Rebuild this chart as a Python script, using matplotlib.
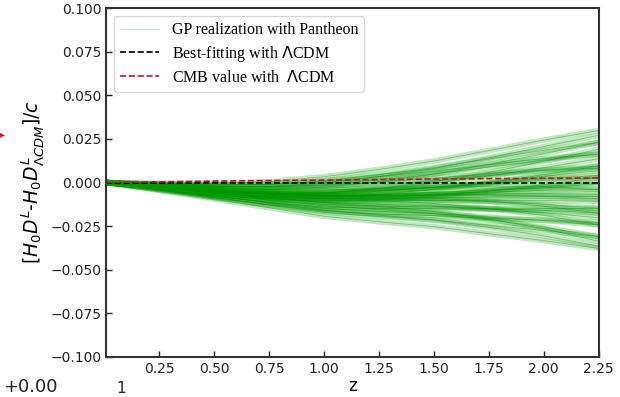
import numpy as np
import matplotlib
matplotlib.use('Agg')
import matplotlib.pyplot as plt

# redshift knots of the GP realizations
z = [0.01, 0.25, 0.5, 0.75, 1.0, 1.25, 1.5, 1.75, 2.0, 2.25]

# GP realizations with Pantheon, in units of 1e-3
gp_lines = [
    [0, -2.5, -5.0, -7.0, -8.0, -7.5, -6.5, -5.5, -4.5, -4.0],
    [0, -1.7, -3.2, -4.0, -3.5, -1.5, 1.0, 4.0, 7.0, 9.5],
    [0, -3.3, -6.8, -10.0, -12.5, -13.5, -14.0, -15.0, -16.0, -17.5],
    [0, -0.9, -1.4, -1.0, 1.0, 4.5, 8.5, 13.5, 18.5, 23.0],
    [0, -4.1, -8.6, -13.0, -17.0, -19.5, -21.5, -24.5, -27.5, -31.0],
    [0, -2.1, -4.1, -5.5, -5.8, -4.5, -2.8, -0.8, 1.3, 2.8],
    [0, -2.9, -5.9, -8.5, -10.3, -10.5, -10.3, -10.3, -10.3, -10.8],
    [0, -1.3, -2.3, -2.5, -1.3, 1.5, 4.8, 8.8, 12.8, 16.3],
    [0, -3.7, -7.7, -11.5, -14.8, -16.5, -17.8, -19.8, -21.8, -24.3],
    [0, -0.5, -0.5, 0.5, 3.3, 7.5, 12.3, 18.3, 24.3, 29.8],
    [0, -4.5, -9.5, -14.5, -19.3, -22.5, -25.3, -29.3, -33.3, -37.8],
    [0, -3.1, -6.0, -8.0, -8.5, -6.8, -4.0, -0.2, 4.5, 9.5],
    [0, -1.9, -4.0, -6.0, -7.5, -8.2, -9.0, -10.8, -13.5, -17.5],
    [0, -2.0, -3.5, -4.0, -2.7, 0.5, 4.8, 10.4, 16.5, 23.0],
    [0, -3.0, -6.5, -10.0, -13.3, -15.5, -17.8, -21.4, -25.5, -31.0],
    [0, -1.4, -2.9, -4.0, -4.3, -3.5, -2.8, -2.4, -2.5, -4.0],
    [0, -3.5, -6.9, -9.5, -10.7, -9.8, -7.8, -4.9, -1.3, 2.8],
    [0, -2.4, -5.0, -7.4, -9.1, -9.7, -10.0, -11.0, -12.4, -14.8],
    [0, -2.5, -4.8, -6.1, -5.9, -3.7, -0.5, 3.7, 8.5, 13.6],
    [0, -2.1, -4.5, -6.9, -9.0, -10.4, -12.0, -14.9, -18.8, -24.3],
    [0, -3.0, -6.0, -8.3, -9.4, -8.6, -7.0, -4.9, -2.4, 0.0],
    [0, -1.4, -2.4, -2.3, -0.4, 3.4, 8.0, 14.1, 20.6, 27.0],
    [0, -3.6, -7.6, -11.8, -15.8, -18.7, -21.5, -25.7, -30.6, -36.4],
    [0, -2.2, -4.3, -5.8, -6.1, -4.7, -2.8, -0.5, 2.1, 4.1],
    [0, -2.7, -5.5, -7.9, -9.4, -9.3, -8.8, -8.4, -8.0, -8.0],
    [0, -2.4, -4.8, -6.8, -8.0, -7.8, -7.2, -6.7, -6.3, -6.7],
    [0, -2.5, -4.8, -6.4, -6.6, -5.1, -2.8, 0.2, 3.6, 6.8],
    [0, -2.0, -4.3, -6.2, -7.3, -7.3, -7.0, -7.2, -7.8, -9.4],
    [0, -3.9, -7.8, -11.4, -14.1, -14.9, -15.0, -15.2, -15.0, -14.8],
    [0, -1.1, -2.1, -2.5, -1.7, 0.3, 2.5, 5.0, 7.0, 8.2],
    [0, -2.8, -5.2, -6.5, -6.1, -3.4, 0.5, 5.8, 12.1, 19.0],
    [0, -2.4, -5.3, -8.4, -11.4, -13.7, -16.5, -20.9, -26.5, -33.7],
    [0, -2.5, -4.9, -6.7, -7.6, -6.9, -5.7, -4.4, -3.1, -0.7],
    [0, -2.9, -6.0, -9.0, -11.4, -12.5, -13.5, -15.2, -17.3, -20.2],
    [0, -0.8, -1.3, -1.1, 0.5, 3.4, 6.5, 10.3, 13.7, 16.3],
    [0, -4.2, -8.6, -12.8, -16.3, -18.1, -19.0, -20.5, -21.6, -22.9],
]

# LCDM curves, units of 1e-3
best_fit = [0, 0, 0, 0, 0, 0, 0, 0, 0, 0]
cmb_value = [0, 0.4, 0.8, 1.1, 1.4, 1.7, 2.0, 2.2, 2.4, 2.6]

xticks = [0.25, 0.5, 0.75, 1.0, 1.25, 1.5, 1.75, 2.0, 2.25]
yticks = [-0.1, -0.075, -0.05, -0.025, 0.0, 0.025, 0.05, 0.075, 0.1]

fig = plt.figure(figsize=(6.2, 3.97), dpi=100)
ax = fig.add_axes([0.171, 0.1008, 0.795, 0.879])

scale = 1e-3
for line in gp_lines:
    y = np.array(line) * scale
    # broad faint stroke to fill the band, thin stroke for line texture
    ax.plot(z, y, color='#00a000', alpha=0.24, lw=4.0, solid_capstyle='butt')
    ax.plot(z, y, color='#007a00', alpha=0.4, lw=0.6)
# legend handle: a single thin faint realization
ax.plot([], [], color='#9ccf9c', alpha=0.6, lw=0.8,
        label='GP realization with Pantheon')

ax.plot(z, np.array(best_fit) * scale, color='black', ls='--', lw=1.2,
        label=r'Best-fitting with $\Lambda$CDM')
ax.plot(z, np.array(cmb_value) * scale, color='#c8102e', ls='--', lw=1.2,
        label=r'CMB value with  $\Lambda$CDM')

ax.set_xlim(0.008, 2.251)
ax.set_ylim(-0.1, 0.1)
ax.set_xticks(xticks)
ax.set_xticklabels(['%.2f' % t for t in xticks])
ax.set_yticks(yticks)
ax.set_yticklabels([('%.3f' % t).replace('-', '\u2212') for t in yticks])
ax.tick_params(direction='in', length=4, width=1, labelsize=10,
               colors='#222222')
for s in ax.spines.values():
    s.set_linewidth(1.5)
    s.set_color('#333333')

ax.set_ylabel(r'$[H_0D^L$-$H_0D^L_{\Lambda CDM}]/c$', fontsize=13.5, labelpad=3)
ax.set_xlabel('z', fontsize=12, labelpad=1)

ax.legend(loc='upper left', prop={'family': 'Liberation Serif', 'size': 11.5},
          edgecolor='#cccccc', handlelength=2.4, labelspacing=0.35)

# cropped bits of the neighbouring figure
fig.text(0.005, 0.003, '+0.00', fontsize=13, color='#222222', va='bottom')
fig.text(0.187, 0.003, '1', fontsize=11, color='#222222', va='bottom')
fig.text(0.0, 1 - 134 / 397, '\u25b8', fontsize=7, color='red', va='center')

fig.savefig('out.png', dpi=100)
